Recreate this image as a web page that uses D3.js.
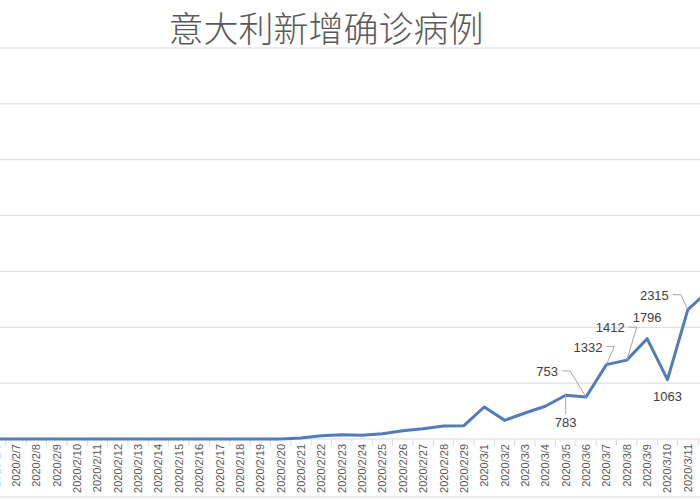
<!DOCTYPE html>
<html><head><meta charset="utf-8">
<script src="https://cdn.jsdelivr.net/npm/d3@7"></script>
<style>body{margin:0;background:#fff}svg{display:block}</style>
</head><body><svg id="c" width="700" height="500"></svg>
<script>
const dates = ["2020/2/6","2020/2/7","2020/2/8","2020/2/9","2020/2/10","2020/2/11","2020/2/12","2020/2/13","2020/2/14","2020/2/15","2020/2/16","2020/2/17","2020/2/18","2020/2/19","2020/2/20","2020/2/21","2020/2/22","2020/2/23","2020/2/24","2020/2/25","2020/2/26","2020/2/27","2020/2/28","2020/2/29","2020/3/1","2020/3/2","2020/3/3","2020/3/4","2020/3/5","2020/3/6","2020/3/7","2020/3/8","2020/3/9","2020/3/10","2020/3/11","2020/3/12","2020/3/13"];
const values = [0,0,0,0,0,0,0,0,0,0,0,0,0,0,0,17,58,76,69,94,147,185,234,239,573,335,466,587,783,753,1332,1412,1796,1063,2315,2651,2547];
const yTicks = [0,1000,2000,3000,4000,5000,6000,7000];
// label: [text dx, text dy (baseline), anchor, leader?]
const labelled = {"2020/3/5":[0,32,"middle",true],"2020/3/6":[-28,-21,"end",true],"2020/3/7":[-4,-13,"end",true],"2020/3/8":[-2,-28,"end",true],"2020/3/9":[0,-17,"middle",false],"2020/3/10":[0,21,"middle",false],"2020/3/11":[-19,-10,"end",true],"2020/3/12":[-3,-10,"start",false]};

const svg = d3.select("#c");
const x = d3.scalePoint().domain(dates).range([-4.4, -4.4 + 20.36*(dates.length-1)]);
const y = d3.scaleLinear().domain([0,7000]).range([439,48]);

svg.append("g").selectAll("line").data(yTicks.slice(1)).join("line")
  .attr("x1",0).attr("x2",700).attr("y1",d=>y(d)).attr("y2",d=>y(d))
  .attr("stroke","#d9d9d9").attr("stroke-width",1);
svg.append("line").attr("x1",0).attr("x2",700).attr("y1",y(0)).attr("y2",y(0)).attr("stroke","#d9d9d9");
svg.append("line").attr("x1",0).attr("x2",700).attr("y1",497).attr("y2",497).attr("stroke","#d9d9d9");

svg.append("g").selectAll("line").data(dates).join("line")
  .attr("x1",d=>x(d)+10.18).attr("x2",d=>x(d)+10.18).attr("y1",439).attr("y2",446)
  .attr("stroke","#d9d9d9");

svg.append("g").selectAll("text").data(dates).join("text")
  .attr("transform",d=>`translate(${x(d)+4},444) rotate(-90)`)
  .attr("text-anchor","end").attr("font-family","Liberation Sans, Arial, sans-serif")
  .attr("font-size",11).attr("fill","#595959").text(d=>d);

svg.append("path").datum(values)
  .attr("d", d3.line().x((d,i)=>x(dates[i])).y(d=>y(d)))
  .attr("fill","none").attr("stroke","#4f7cbf").attr("stroke-width",3).attr("stroke-linejoin","round");

const lab = svg.append("g").attr("font-family","Liberation Sans, Arial, sans-serif").attr("font-size",13).attr("fill","#404040");
dates.forEach((d,i)=>{
  const l = labelled[d]; if(!l) return;
  const px = x(d), py = y(values[i]);
  const tx = px + l[0], ty = py + l[1];
  if (l[3]) {
    let pts;
    if (l[2]==="middle") pts = [[px,py],[px,ty-13]];
    else pts = [[tx+4,ty-5],[tx+12,ty-5],[px,py]];
    lab.append("path").attr("d", d3.line()(pts)).attr("fill","none").attr("stroke","#a6a6a6").attr("stroke-width",1);
  }
  lab.append("text").attr("x",tx).attr("y",ty).attr("text-anchor",l[2]).text(String(values[i]));
});

svg.append("text").attr("x",326).attr("y",42).attr("text-anchor","middle")
  .attr("font-family","Noto Sans CJK SC, sans-serif").attr("font-weight",300).attr("font-size",35).attr("fill","#595959").text("意大利新增确诊病例");
</script></body></html>
